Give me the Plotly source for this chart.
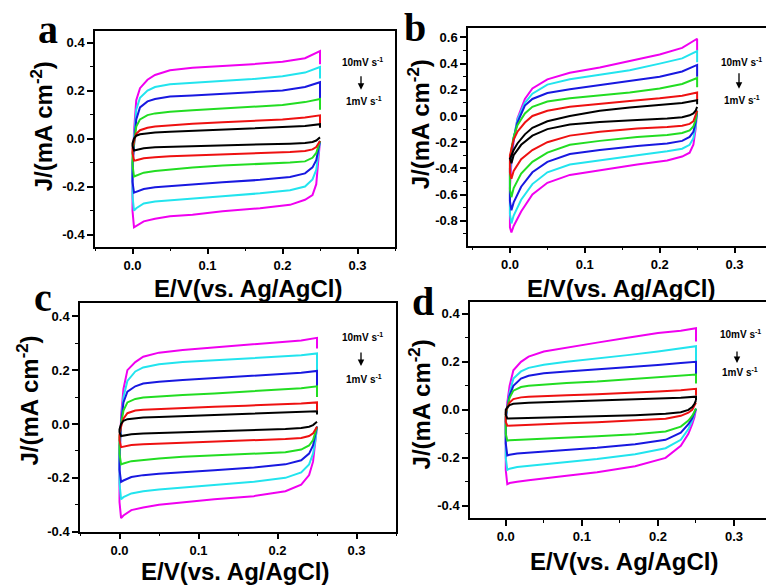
import plotly.graph_objects as go

# ---------------- data ----------------
SCAN_RATES = ["10 mV/s", "8 mV/s", "6 mV/s", "4 mV/s", "2 mV/s", "1 mV/s"]
COLORS = ["#F000F0", "#22E4EE", "#1818E0", "#22DD22", "#EE1111", "#000000"]

# potential grids (V vs Ag/AgCl)
E_UP = [0.0, 0.002, 0.005, 0.01, 0.02, 0.03, 0.05, 0.08, 0.12, 0.16, 0.2, 0.23, 0.25, 0.25]
E_DOWN = [0.25, 0.248, 0.245, 0.24, 0.23, 0.21, 0.17, 0.12, 0.08, 0.05, 0.03, 0.015, 0.005, 0.002, 0.0]

# panel a
A_UP = [
    [-0.18, 0.03, 0.16, 0.21, 0.245, 0.265, 0.285, 0.295, 0.302, 0.31, 0.32, 0.335, 0.365, 0.31],
    [-0.13, 0.0, 0.12, 0.17, 0.2, 0.215, 0.226, 0.232, 0.24, 0.248, 0.26, 0.275, 0.298, 0.25],
    [-0.1, -0.03, 0.08, 0.13, 0.155, 0.165, 0.175, 0.18, 0.187, 0.193, 0.2, 0.215, 0.235, 0.16],
    [-0.06, -0.02, 0.05, 0.08, 0.098, 0.105, 0.112, 0.118, 0.125, 0.132, 0.14, 0.152, 0.165, 0.12],
    [-0.04, -0.01, 0.02, 0.035, 0.045, 0.05, 0.056, 0.062, 0.068, 0.074, 0.08, 0.088, 0.097, 0.05],
    [-0.02, 0.0, 0.012, 0.018, 0.022, 0.025, 0.028, 0.032, 0.036, 0.04, 0.045, 0.052, 0.06, 0.045],
]
A_DOWN = [
    [-0.01, -0.1, -0.19, -0.235, -0.255, -0.276, -0.29, -0.303, -0.317, -0.324, -0.334, -0.345, -0.365, -0.37, -0.30],
    [-0.01, -0.06, -0.13, -0.17, -0.2, -0.215, -0.228, -0.24, -0.25, -0.256, -0.262, -0.27, -0.29, -0.30, -0.24],
    [-0.01, -0.04, -0.09, -0.12, -0.145, -0.16, -0.172, -0.182, -0.19, -0.197, -0.203, -0.21, -0.222, -0.225, -0.18],
    [-0.01, -0.03, -0.06, -0.08, -0.095, -0.1, -0.105, -0.112, -0.12, -0.128, -0.135, -0.142, -0.155, -0.158, -0.11],
    [-0.01, -0.02, -0.035, -0.045, -0.052, -0.056, -0.06, -0.065, -0.07, -0.074, -0.078, -0.082, -0.09, -0.092, -0.06],
    [0.005, 0.0, -0.008, -0.014, -0.018, -0.021, -0.024, -0.027, -0.03, -0.033, -0.036, -0.04, -0.047, -0.05, -0.03],
]

# panel b
B_UP = [
    [-0.55, -0.35, -0.19, -0.02, 0.13, 0.21, 0.28, 0.33, 0.37, 0.42, 0.47, 0.52, 0.59, 0.5],
    [-0.45, -0.3, -0.17, -0.03, 0.1, 0.17, 0.24, 0.28, 0.315, 0.35, 0.4, 0.44, 0.495, 0.41],
    [-0.4, -0.28, -0.17, -0.05, 0.08, 0.13, 0.175, 0.205, 0.235, 0.265, 0.3, 0.34, 0.39, 0.3],
    [-0.35, -0.25, -0.16, -0.07, 0.02, 0.07, 0.11, 0.135, 0.155, 0.18, 0.21, 0.245, 0.29, 0.22],
    [-0.3, -0.24, -0.18, -0.12, -0.05, 0.0, 0.04, 0.07, 0.095, 0.115, 0.135, 0.155, 0.18, 0.12],
    [-0.33, -0.3, -0.26, -0.21, -0.14, -0.09, -0.04, 0.0, 0.04, 0.065, 0.085, 0.1, 0.12, 0.09],
]
B_DOWN = [
    [0.04, -0.1, -0.22, -0.28, -0.31, -0.34, -0.37, -0.415, -0.45, -0.51, -0.6, -0.73, -0.84, -0.89, -0.85],
    [0.04, -0.08, -0.17, -0.22, -0.25, -0.27, -0.3, -0.34, -0.37, -0.43, -0.52, -0.64, -0.76, -0.82, -0.75],
    [0.04, -0.05, -0.12, -0.16, -0.19, -0.21, -0.23, -0.26, -0.29, -0.35, -0.43, -0.54, -0.66, -0.72, -0.65],
    [0.04, -0.03, -0.08, -0.11, -0.13, -0.145, -0.16, -0.19, -0.22, -0.28, -0.35, -0.44, -0.55, -0.62, -0.56],
    [0.04, 0.0, -0.04, -0.06, -0.075, -0.085, -0.095, -0.12, -0.15, -0.2, -0.26, -0.33, -0.42, -0.48, -0.43],
    [0.07, 0.04, 0.02, 0.005, -0.01, -0.02, -0.03, -0.045, -0.065, -0.1, -0.15, -0.22, -0.3, -0.36, -0.32],
]

# panel c
C_UP = [
    [-0.17, 0.03, 0.13, 0.2, 0.23, 0.25, 0.265, 0.275, 0.285, 0.293, 0.303, 0.31, 0.32, 0.28],
    [-0.12, 0.0, 0.1, 0.16, 0.195, 0.21, 0.222, 0.23, 0.237, 0.243, 0.25, 0.255, 0.262, 0.2],
    [-0.08, 0.0, 0.08, 0.12, 0.14, 0.15, 0.157, 0.163, 0.17, 0.177, 0.185, 0.19, 0.197, 0.13],
    [-0.05, 0.0, 0.05, 0.08, 0.093, 0.098, 0.102, 0.108, 0.113, 0.12, 0.127, 0.133, 0.14, 0.1],
    [-0.04, -0.01, 0.02, 0.04, 0.05, 0.053, 0.056, 0.06, 0.064, 0.068, 0.072, 0.076, 0.08, 0.05],
    [-0.02, 0.0, 0.012, 0.018, 0.022, 0.024, 0.026, 0.029, 0.032, 0.036, 0.04, 0.044, 0.047, 0.035],
]
C_DOWN = [
    [-0.01, -0.07, -0.14, -0.19, -0.225, -0.25, -0.268, -0.28, -0.29, -0.3, -0.31, -0.32, -0.34, -0.35, -0.29],
    [-0.01, -0.06, -0.11, -0.15, -0.18, -0.2, -0.215, -0.227, -0.235, -0.243, -0.25, -0.258, -0.272, -0.28, -0.22],
    [-0.01, -0.04, -0.08, -0.11, -0.135, -0.15, -0.162, -0.172, -0.178, -0.185, -0.19, -0.197, -0.21, -0.215, -0.17],
    [-0.01, -0.03, -0.06, -0.08, -0.095, -0.105, -0.11, -0.117, -0.122, -0.128, -0.133, -0.138, -0.147, -0.15, -0.11],
    [-0.01, -0.02, -0.035, -0.045, -0.052, -0.056, -0.06, -0.064, -0.068, -0.072, -0.075, -0.078, -0.084, -0.086, -0.06],
    [0.008, 0.003, -0.004, -0.01, -0.015, -0.019, -0.022, -0.026, -0.029, -0.032, -0.035, -0.038, -0.043, -0.045, -0.03],
]

# panel d
D_UP = [
    [-0.05, 0.03, 0.1, 0.165, 0.2, 0.222, 0.243, 0.26, 0.28, 0.3, 0.32, 0.33, 0.34, 0.285],
    [-0.04, 0.01, 0.07, 0.13, 0.16, 0.175, 0.188, 0.2, 0.213, 0.228, 0.243, 0.255, 0.265, 0.2],
    [-0.03, 0.01, 0.06, 0.1, 0.13, 0.142, 0.152, 0.16, 0.168, 0.177, 0.187, 0.195, 0.2, 0.14],
    [-0.02, 0.01, 0.05, 0.08, 0.095, 0.1, 0.106, 0.112, 0.118, 0.126, 0.135, 0.142, 0.147, 0.11],
    [-0.01, 0.01, 0.03, 0.045, 0.052, 0.055, 0.058, 0.061, 0.065, 0.07, 0.076, 0.082, 0.088, 0.06],
    [0.0, 0.01, 0.02, 0.025, 0.028, 0.03, 0.032, 0.035, 0.038, 0.042, 0.046, 0.05, 0.055, 0.04],
]
D_DOWN = [
    [0.003, -0.03, -0.06, -0.1, -0.15, -0.2, -0.235, -0.26, -0.275, -0.285, -0.293, -0.3, -0.305, -0.31, -0.25],
    [0.005, -0.02, -0.045, -0.08, -0.125, -0.16, -0.185, -0.205, -0.218, -0.225, -0.232, -0.238, -0.245, -0.25, -0.2],
    [0.005, -0.015, -0.035, -0.06, -0.095, -0.125, -0.143, -0.158, -0.167, -0.173, -0.178, -0.182, -0.187, -0.19, -0.14],
    [0.005, -0.01, -0.025, -0.045, -0.07, -0.09, -0.102, -0.11, -0.115, -0.119, -0.122, -0.124, -0.127, -0.128, -0.1],
    [0.03, 0.015, 0.0, -0.012, -0.025, -0.037, -0.045, -0.052, -0.056, -0.059, -0.061, -0.063, -0.065, -0.066, -0.05],
    [0.04, 0.025, 0.012, 0.0, -0.01, -0.016, -0.022, -0.026, -0.029, -0.031, -0.033, -0.034, -0.035, -0.036, -0.02],
]

X_TICKS = [0.0, 0.1, 0.2, 0.3]
X_TICKTEXT = ["0.0", "0.1", "0.2", "0.3"]
Y_TICKS_ACD = [-0.4, -0.2, 0.0, 0.2, 0.4]
Y_TICKTEXT_ACD = ["-0.4", "-0.2", "0.0", "0.2", "0.4"]
Y_TICKS_B = [-0.8, -0.6, -0.4, -0.2, 0.0, 0.2, 0.4, 0.6]
Y_TICKTEXT_B = ["-0.8", "-0.6", "-0.4", "-0.2", "0.0", "0.2", "0.4", "0.6"]

PANEL_LETTERS = ["a", "b", "c", "d"]
X_TITLE = "E/V(vs. Ag/AgCl)"
Y_TITLE = "J/(mA cm<sup>-2</sup>)"
RATE_TOP = "10mV s<sup>-1</sup>"
RATE_BOTTOM = "1mV s<sup>-1</sup>"

# ---------------- layout helpers ----------------
W, H = 766, 588
def px(x):
    return x / W
def py(y):
    return 1 - y / H

fig = go.Figure()

panels = [
    (A_UP, A_DOWN, ""),
    (B_UP, B_DOWN, "2"),
    (C_UP, C_DOWN, "3"),
    (D_UP, D_DOWN, "4"),
]
for up_rows, down_rows, sfx in panels:
    for i in range(len(up_rows)):
        fig.add_trace(go.Scatter(
            x=E_DOWN + E_UP,
            y=down_rows[i] + up_rows[i],
            mode="lines",
            line=dict(color=COLORS[i], width=2),
            name=SCAN_RATES[i],
            showlegend=False,
            xaxis="x" + sfx, yaxis="y" + sfx,
        ))

tickfont = dict(family="Liberation Sans, Arial", size=13, color="black", weight="bold")

def xaxis(domain, rng, anchor, mirror=True):
    return dict(domain=domain, range=rng, anchor=anchor,
                tickmode="array", tickvals=X_TICKS, ticktext=X_TICKTEXT,
                showline=True, linecolor="black", linewidth=1.5, mirror=mirror,
                ticks="outside", ticklen=6, tickwidth=1.5, tickcolor="black",
                minor=dict(tickmode="linear", tick0=0, dtick=0.05, ticks="outside",
                           ticklen=3, tickwidth=1.2, tickcolor="black", showgrid=False),
                showgrid=False, zeroline=False, tickfont=tickfont)

def yaxis(domain, rng, anchor, tv, tt, mirror=True):
    return dict(domain=domain, range=rng, anchor=anchor,
                tickmode="array", tickvals=tv, ticktext=tt,
                showline=True, linecolor="black", linewidth=1.5, mirror=mirror,
                ticks="outside", ticklen=6, tickwidth=1.5, tickcolor="black",
                minor=dict(tickmode="linear", tick0=0, dtick=0.1, ticks="outside",
                           ticklen=3, tickwidth=1.2, tickcolor="black", showgrid=False),
                showgrid=False, zeroline=False, tickfont=tickfont)

fig.update_layout(
    width=W, height=H,
    margin=dict(l=0, r=0, t=0, b=0),
    paper_bgcolor="white", plot_bgcolor="white",
    showlegend=False,
    xaxis=xaxis([px(95), px(395)], [-0.05, 0.35], "y"),
    yaxis=yaxis([py(250), py(31)], [-0.45, 0.45], "x", Y_TICKS_ACD, Y_TICKTEXT_ACD),
    xaxis2=xaxis([px(468), 1.0], [-0.056, 0.342], "y2"),
    yaxis2=yaxis([py(249), py(28)], [-0.99, 0.675], "x2", Y_TICKS_B, Y_TICKTEXT_B, mirror=False),
    xaxis3=xaxis([px(80), px(396)], [-0.05, 0.35], "y3"),
    yaxis3=yaxis([py(539), py(307)], [-0.4, 0.45], "x3", Y_TICKS_ACD, Y_TICKTEXT_ACD),
    xaxis4=xaxis([px(470), 1.0], [-0.047, 0.342], "y4"),
    yaxis4=yaxis([py(525), py(306)], [-0.45, 0.45], "x4", Y_TICKS_ACD, Y_TICKTEXT_ACD, mirror=False),
)

title_font = dict(family="Liberation Sans, Arial", size=24, color="black", weight="bold")
letter_font = dict(family="Liberation Serif, Times New Roman", size=40, color="black", weight="bold")
rate_font = dict(family="Liberation Sans, Arial", size=10, color="black", weight="bold")

# per-panel text positions (pixels)
letter_pos = [(48, 30), (415, 28), (43, 302), (423, 306)]
xtitle_pos = [(248, 292), (621, 292), (235, 579), (624, 569)]
ytitle_pos = [(42, 128), (419, 126), (28, 406), (420, 410)]
rate_top_pos = [(362, 63), (741, 63), (362, 342), (740, 339)]
rate_bot_pos = [(364, 102), (742, 101), (364, 384), (740, 377)]
arrow_pos = [(361, 76, 91), (739, 73, 90), (361, 356, 371), (737, 355, 368)]

ann = []
for k in range(4):
    lx, ly = letter_pos[k]
    ann.append(dict(x=px(lx), y=py(ly), xref="paper", yref="paper", text=PANEL_LETTERS[k],
                    showarrow=False, font=letter_font, xanchor="center", yanchor="middle"))
    tx, ty = xtitle_pos[k]
    ann.append(dict(x=px(tx), y=py(ty), xref="paper", yref="paper", text=X_TITLE,
                    showarrow=False, font=title_font, xanchor="center", yanchor="middle"))
    yx, yy = ytitle_pos[k]
    ann.append(dict(x=px(yx), y=py(yy), xref="paper", yref="paper", text=Y_TITLE,
                    showarrow=False, font=title_font, textangle=-90,
                    xanchor="center", yanchor="middle"))
    rx, ry = rate_top_pos[k]
    ann.append(dict(x=px(rx), y=py(ry), xref="paper", yref="paper", text=RATE_TOP,
                    showarrow=False, font=rate_font, xanchor="center", yanchor="middle"))
    rx, ry = rate_bot_pos[k]
    ann.append(dict(x=px(rx), y=py(ry), xref="paper", yref="paper", text=RATE_BOTTOM,
                    showarrow=False, font=rate_font, xanchor="center", yanchor="middle"))
    ax_, ay0, ay1 = arrow_pos[k]
    ann.append(dict(x=px(ax_), y=py(ay1), xref="paper", yref="paper", text="",
                    showarrow=True, ax=0, ay=-(ay1 - ay0), arrowhead=2, arrowsize=1,
                    arrowwidth=1.3, arrowcolor="black"))
fig.update_layout(annotations=ann)

fig.write_html("out.html")
